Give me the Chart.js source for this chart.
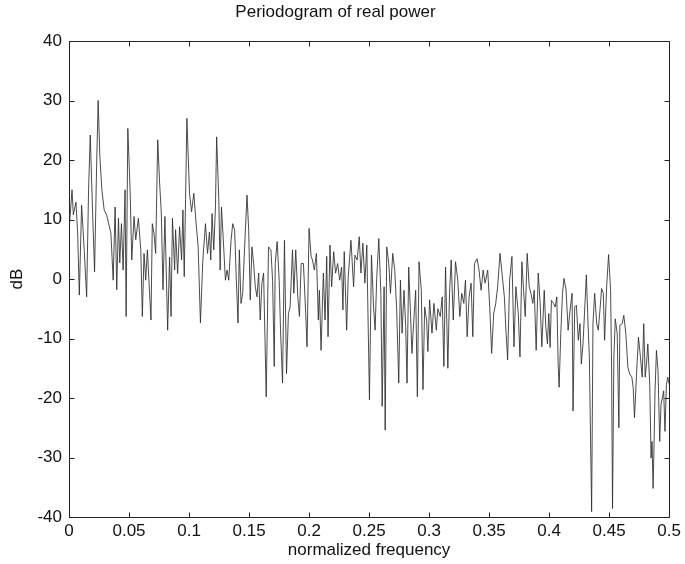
<!DOCTYPE html>
<html>
<head>
<meta charset="utf-8">
<script src="https://cdn.jsdelivr.net/npm/chart.js@4"></script>
<style>
  html, body { margin: 0; padding: 0; background: #fff; }
  #wrap { width: 685px; height: 564px; }
</style>
</head>
<body>
<div id="wrap"><canvas id="c" width="685" height="564"></canvas></div>
<script>
// ---- data ----
const freq = [
  0, 0.0025, 0.0036, 0.0058, 0.0072, 0.0086, 0.0105, 0.0127, 0.0147, 0.0163, 0.0177, 0.0196, 0.0213, 0.0230, 0.0243, 0.0257, 0.0274, 0.0293, 0.0313, 0.0349, 0.0368, 0.0384, 0.0398, 0.0412, 0.0423, 0.0437, 0.0451, 0.0467, 0.0476, 0.0490, 0.0509, 0.0523, 0.0542, 0.0556, 0.0578, 0.0598, 0.0611, 0.0625, 0.0639, 0.0653, 0.0667, 0.0683, 0.0694, 0.0708, 0.0722, 0.0739, 0.0755, 0.0769, 0.0783, 0.0799, 0.0822, 0.0838, 0.0850, 0.0862, 0.0880, 0.0888, 0.0905, 0.0921, 0.0938, 0.0949, 0.0960, 0.0971, 0.0982,
  0.1004, 0.1021, 0.1040, 0.1059, 0.1076, 0.1095, 0.1115, 0.1137, 0.1154, 0.1170, 0.1181, 0.1192, 0.1206, 0.1220, 0.1230, 0.1248, 0.1259, 0.1270, 0.1284, 0.1303, 0.1317, 0.1331, 0.1350, 0.1364, 0.1380, 0.1394, 0.1408, 0.1419, 0.1433, 0.1447, 0.1463, 0.1483, 0.1497, 0.1510, 0.1524, 0.1538, 0.1552, 0.1566, 0.1580, 0.1593, 0.1607, 0.1621, 0.1643, 0.1662, 0.1682, 0.1696, 0.1710, 0.1718, 0.1734, 0.1751, 0.1762, 0.1779, 0.1795, 0.1812, 0.1828, 0.1842, 0.1862, 0.1873, 0.1889, 0.1906, 0.1920, 0.1934, 0.1953, 0.1972,
  0.1983, 0.2000, 0.2017, 0.2028, 0.2044, 0.2061, 0.2077, 0.2086, 0.2100, 0.2119, 0.2133, 0.2147, 0.2158, 0.2174, 0.2188, 0.2205, 0.2221, 0.2238, 0.2255, 0.2271, 0.2282, 0.2293, 0.2313, 0.2326, 0.2349, 0.2371, 0.2382, 0.2401, 0.2418, 0.2432, 0.2448, 0.2465, 0.2481, 0.2503, 0.2520, 0.2537, 0.2550, 0.2564, 0.2581, 0.2598, 0.2609, 0.2625, 0.2634, 0.2647, 0.2664, 0.2678, 0.2697, 0.2714, 0.2730, 0.2747, 0.2761, 0.2775, 0.2791, 0.2805, 0.2816, 0.2830, 0.2846, 0.2857, 0.2871, 0.2888, 0.2902, 0.2916, 0.2935, 0.2949, 0.2963,
  0.2979, 0.2990, 0.3004, 0.3024, 0.3040, 0.3060, 0.3073, 0.3093, 0.3109, 0.3123, 0.3137, 0.3156, 0.3170, 0.3184, 0.3201, 0.3220, 0.3239, 0.3256, 0.3272, 0.3289, 0.3303, 0.3317, 0.3333, 0.3350, 0.3364, 0.3378, 0.3400, 0.3416, 0.3433, 0.3450, 0.3466, 0.3488, 0.3505, 0.3521, 0.3538, 0.3555, 0.3571, 0.3591, 0.3607, 0.3627, 0.3640, 0.3654, 0.3671, 0.3690, 0.3707, 0.3723, 0.3743, 0.3757, 0.3773, 0.3787, 0.3801, 0.3817, 0.3834, 0.3848, 0.3864, 0.3876, 0.3892, 0.3909, 0.3925, 0.3939, 0.3959, 0.3972,
  0.3986, 0.3997, 0.4008, 0.4019, 0.4036, 0.4050, 0.4064, 0.4075, 0.4083, 0.4097, 0.4111, 0.4124, 0.4141, 0.4158, 0.4174, 0.4191, 0.4199, 0.4213, 0.4227, 0.4243, 0.4257, 0.4268, 0.4282, 0.4293, 0.4310, 0.4324, 0.4335, 0.4354, 0.4365, 0.4379, 0.4396, 0.4409, 0.4423, 0.4437, 0.4451, 0.4462, 0.4479, 0.4495, 0.4512, 0.4520, 0.4528, 0.4539, 0.4551, 0.4567, 0.4581, 0.4589, 0.4609, 0.4622, 0.4639, 0.4656, 0.4672, 0.4689, 0.4700, 0.4711, 0.4728, 0.4744, 0.4761, 0.4775, 0.4788, 0.4800, 0.4811, 0.4822, 0.4838, 0.4849, 0.4857, 0.4866, 0.4874, 0.4882, 0.4894, 0.4907, 0.4921, 0.4932, 0.4943, 0.4954, 0.4965, 0.4977, 0.4988, 0.5000
];
const powerDb = [
  8, 15, 10.8, 12.9, 7.7, -2.7, 12.4, 4.8, -3, 15, 24.2, 11.6, 1.2, 18.9, 30, 20.6, 15, 11.6, 10.8, 7.7, -0.2, 12.1, -1.8, 10.2, 2.7, 9.3, 1.5, 15, -6.3, 25.3, 15, 3.2, 10.5, 6.6, 10.2, 4.9, -6.3, 4.3, -0.2, 4.9, -0.7, -6.9, 9.3, 7.7, 4.3, 23.4, 16.1, 11.1, -1.8, 10.5, -8.6, 3.7, -6.3, 10.2, 1.5, 8.3, 0.9, 8.8, 3.2, 11.6, 0.4, 13.4, 27,
  14.4, 11.3, 14.4, 9.3, 5.4, -7.4, 3.2, 9.3, 4.3, 7.9, 3.2, 11.0, 4.9, 12.1, 23.9, 13.3, 1.5, 12.1, 7.1, -0.2, 1.5, -0.2, 6.5, 9.3, 8.2, -0.2, -7.4, 4.9, -4.1, -2.4, 5.4, 14.1, 8.2, -3.5, 5.4, 2.6, -1.3, -3, 1, -6.9, -0.7, 1, -19.8, 5.4, 4.9, -0.2, -14.7, 2.6, 6.3, -0.2, -8.5, -17.5, 6.5, -15.9, -5.8, -4.7, 4.9, -2.4, 4.9, -3, -6.3, 2.6, 2.6, -5.8,
  -11.4, 8.5, 3.8, 3.2, 1.5, 4.3, -6.9, -1.9, -12, 1, -6.9, 3.8, -9.7, 5.7, -1.3, 4.6, 1, 2.6, -0.2, 2, -5.2, 4.6, -8.6, 0.4, 6.5, -1.3, 4.0, 3.2, 7.1, 1, 6, -0.7, 5.7, -20.3, 4, -4.7, -8.6, 0.4, 6.8, -2.4, -21.4, -1.3, -25.4, 5.4, 2.6, -2.4, 4.3, 1.5, -5.2, -17.5, -0.2, -9.1, -1.9, -8, -17.5, 2, -6.3, -12.5, -7.4, -1.9, -19.8, 2.9, -1.9, -18.6, -4.7,
  -6.9, -12.2, -3.5, -9.1, -4.1, -8.6, -5, -6.3, -3, -14.7, 2, -15, -2.4, 3.2, -6.9, 2.9, -0.2, -6.3, -2.4, -4.1, -0.2, -9.7, -3, -0.7, -9.7, 2.6, 3.4, 1.5, -1.9, 1.5, -0.7, 1.5, -4.7, -12.5, -5.8, -4.1, -1.3, 4.3, 1, -3, -8.6, -13.6, -0.2, 3.8, -11.4, -1.3, -5.8, -13.1, 2.9, -1.9, -6.3, 4.3, -1.3, -2.4, -4.1, -1.9, -12, 1, -4.1, -11.4, -1.9, -8,
  -10.9, -5.8, -11.5, -3.6, -4.1, -4.7, -3, -14.3, -18.2, -9.2, -2.4, 0.1, -1.9, -8.6, -5.3, -2.4, -22.2, -4.7, -4.4, -10.3, -7.5, -14.3, -10.9, -6.4, 0.7, -7.5, -13.2, -39.1, -7.5, -2.4, -7.5, -8.6, -5.3, -1.6, -2.4, -10.3, -1.3, 4.1, -1.9, -14.3, -38.6, -13.2, -6.7, -9.2, -25, -7.8, -7.5, -6.1, -9.2, -14.9, -16, -16.5, -18.2, -23.3, -16, -9.8, -13.2, -16.5, -7.5, -16.5, -14.3, -10.9, -17.7, -30.1, -27.3, -35.2, -27.8, -18.8, -12, -15.4, -27.3, -21.1, -20, -18.8, -25.6, -17.7, -16.5, -17.7
];
const xTickValues = [0, 0.05, 0.1, 0.15, 0.2, 0.25, 0.3, 0.35, 0.4, 0.45, 0.5];
const xTickLabels = ['0', '0.05', '0.1', '0.15', '0.2', '0.25', '0.3', '0.35', '0.4', '0.45', '0.5'];
const yTickValues = [-40, -30, -20, -10, 0, 10, 20, 30, 40];
const yTickLabels = ['-40', '-30', '-20', '-10', '0', '10', '20', '30', '40'];
const titleText = 'Periodogram of real power';
const xTitle = 'normalized frequency';
const yTitle = 'dB';

// ---- build ----
const n = Math.min(freq.length, powerDb.length);
const points = [];
for (let i = 0; i < n; i++) points.push({ x: freq[i], y: powerDb[i] });

const FONT = "'Liberation Sans', Arial, Helvetica, sans-serif";
const TXT = '#111';

const framePlugin = {
  id: 'matlabFrame',
  afterDraw(chart) {
    const { ctx, chartArea: a, scales } = chart;
    const L = Math.round(a.left) + 0.5, R = Math.round(a.right) + 0.5;
    const T = Math.round(a.top) + 0.5, B = Math.round(a.bottom) + 0.5;
    ctx.save();
    ctx.strokeStyle = '#222';
    ctx.lineWidth = 1;
    ctx.beginPath();
    ctx.rect(L, T, R - L, B - T);
    const tl = 5;
    xTickValues.forEach(v => {
      const px = Math.round(scales.x.getPixelForValue(v)) + 0.5;
      ctx.moveTo(px, B); ctx.lineTo(px, B - tl);
      ctx.moveTo(px, T); ctx.lineTo(px, T + tl);
    });
    yTickValues.forEach(v => {
      const py = Math.round(scales.y.getPixelForValue(v)) + 0.5;
      ctx.moveTo(L, py); ctx.lineTo(L + tl, py);
      ctx.moveTo(R, py); ctx.lineTo(R - tl, py);
    });
    ctx.stroke();
    ctx.restore();
  }
};

new Chart(document.getElementById('c'), {
  type: 'line',
  data: {
    datasets: [{
      data: points,
      borderColor: 'rgba(45,45,45,0.85)',
      borderWidth: 1,
      pointRadius: 0,
      tension: 0,
      fill: false
    }]
  },
  options: {
    responsive: false,
    animation: false,
    events: [],
    layout: { padding: { left: 0, right: 14, top: 0, bottom: 0 } },
    plugins: {
      legend: { display: false },
      tooltip: { enabled: false },
      title: {
        display: true,
        text: titleText,
        color: TXT,
        font: { family: FONT, size: 17, weight: 'normal' },
        padding: { top: 2, bottom: 18.6 }
      }
    },
    scales: {
      x: {
        type: 'linear',
        min: 0, max: 0.5,
        afterFit(s) { s.height = 47; },
        afterBuildTicks(s) { s.ticks = xTickValues.map(v => ({ value: v })); },
        grid: { display: false, drawTicks: false },
        border: { display: false },
        ticks: {
          color: TXT,
          font: { family: FONT, size: 17 },
          padding: 4,
          maxRotation: 0,
          autoSkip: false,
          callback: (v) => { const i = xTickValues.findIndex(t => Math.abs(t - v) < 1e-9); return i >= 0 ? xTickLabels[i] : ''; }
        },
        title: {
          display: true, text: xTitle, color: TXT,
          font: { family: FONT, size: 17 },
          padding: { top: 0, bottom: 3.8 }
        }
      },
      y: {
        type: 'linear',
        min: -40, max: 40,
        afterFit(s) { s.width = 69; },
        afterBuildTicks(s) { s.ticks = yTickValues.map(v => ({ value: v })); },
        grid: { display: false, drawTicks: false },
        border: { display: false },
        ticks: {
          color: TXT,
          font: { family: FONT, size: 17 },
          padding: 7,
          autoSkip: false,
          callback: (v) => { const i = yTickValues.indexOf(v); return i >= 0 ? yTickLabels[i] : ''; }
        },
        title: {
          display: true, text: yTitle, color: TXT,
          font: { family: FONT, size: 17 },
          padding: { top: 7, bottom: 0 }
        }
      }
    }
  },
  plugins: [framePlugin]
});
</script>
</body>
</html>
